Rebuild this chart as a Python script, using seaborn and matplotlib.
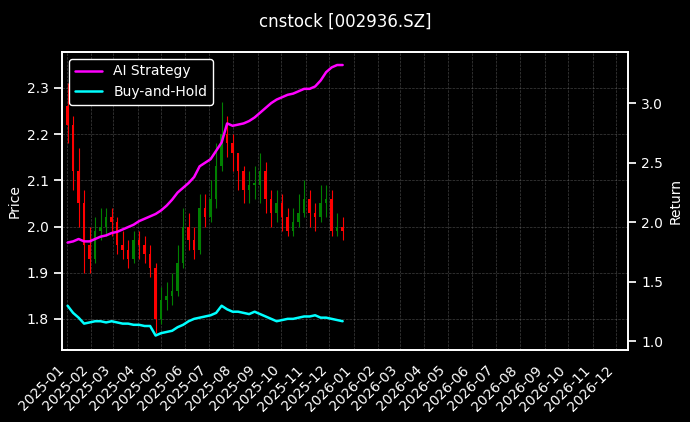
import matplotlib
matplotlib.use("Agg")
import matplotlib.pyplot as plt
import matplotlib.dates as mdates
import seaborn as sns
import pandas as pd
import numpy as np

close = [2.22,2.12,2.05,1.96,1.93,1.99,2.00,2.02,2.01,1.96,1.95,1.93,1.97,1.96,1.94,1.91,1.80,1.84,1.85,1.86,
         1.92,2.00,1.97,1.95,2.04,2.02,2.06,2.13,2.20,2.18,2.16,2.12,2.08,2.09,2.09,2.12,2.06,2.03,2.05,2.02,
         1.99,2.01,2.03,2.06,2.03,2.02,2.05,2.06,1.99,2.00,1.99]
open_ = [2.26,2.22,2.12,2.05,1.96,1.93,1.99,2.00,2.02,2.01,1.96,1.95,1.93,1.97,1.96,1.94,1.91,1.80,1.84,1.85,
         1.86,1.92,2.00,1.97,1.95,2.04,2.02,2.06,2.13,2.20,2.18,2.16,2.12,2.08,2.09,2.09,2.12,2.06,2.03,2.05,
         2.02,1.99,2.01,2.03,2.06,2.03,2.02,2.05,2.06,1.99,2.00]
high = [2.31,2.24,2.17,2.08,2.00,2.02,2.04,2.04,2.04,2.02,1.99,1.97,1.99,1.99,1.98,1.96,1.92,1.87,1.88,1.90,
        1.96,2.04,2.03,2.00,2.07,2.07,2.10,2.18,2.27,2.24,2.20,2.16,2.13,2.12,2.13,2.16,2.14,2.08,2.08,2.07,
        2.04,2.04,2.07,2.10,2.08,2.05,2.09,2.09,2.08,2.03,2.02]
low = [2.18,2.08,2.00,1.90,1.90,1.92,1.97,1.98,1.98,1.94,1.93,1.91,1.92,1.93,1.92,1.89,1.77,1.79,1.82,1.83,
       1.85,1.91,1.95,1.93,1.94,2.00,2.01,2.04,2.12,2.15,2.12,2.08,2.05,2.05,2.06,2.05,2.03,2.00,2.01,1.99,
       1.98,1.98,2.00,2.02,2.00,1.99,2.01,2.02,1.98,1.98,1.97]
ai_ret = [1.83,1.84,1.86,1.84,1.84,1.86,1.88,1.89,1.91,1.92,1.94,1.96,1.98,2.01,2.03,2.05,2.07,2.10,2.14,2.19,
          2.25,2.29,2.33,2.38,2.47,2.50,2.53,2.60,2.67,2.83,2.81,2.82,2.83,2.85,2.88,2.92,2.96,3.00,3.03,3.05,
          3.07,3.08,3.10,3.12,3.12,3.14,3.19,3.26,3.30,3.32,3.32]
bh_ret = [1.30,1.24,1.20,1.15,1.16,1.17,1.17,1.16,1.17,1.16,1.15,1.15,1.14,1.14,1.13,1.13,1.05,1.07,1.08,1.09,
          1.12,1.14,1.17,1.19,1.20,1.21,1.22,1.24,1.30,1.27,1.25,1.25,1.24,1.23,1.25,1.23,1.21,1.19,1.17,1.18,
          1.19,1.19,1.20,1.21,1.21,1.22,1.20,1.20,1.19,1.18,1.17]
dates = pd.date_range("2025-01-02", periods=len(close), freq="7D")

df = pd.DataFrame({"date": dates, "open": open_, "high": high, "low": low, "close": close,
                   "ai": ai_ret, "bh": bh_ret})

sns.set_theme(style="dark")
plt.style.use("dark_background")
plt.rcParams["font.family"] = ["DejaVu Sans"]

fig = plt.figure(figsize=(6.9, 4.22), dpi=100)
ax = fig.add_axes([0.09, 0.171, 0.82, 0.706])
ax.set_facecolor("black")
fig.patch.set_facecolor("black")

up = df["close"] >= df["open"]
cols = np.where(up, "green", "red")
ax.vlines(df["date"], df["low"], df["high"], colors=cols, linewidth=0.8)
ax.bar(df["date"], (df["close"] - df["open"]).abs().clip(lower=0.004),
       bottom=np.minimum(df["open"], df["close"]), width=3, color=cols, edgecolor=cols, linewidth=0)
ax.set_ylim(1.733, 2.378)
ax.set_ylabel("Price", color="white", fontsize=10)
ax.grid(True, color="gray", linestyle="--", linewidth=0.5, alpha=0.5)

ax2 = ax.twinx()
sns.lineplot(data=df, x="date", y="ai", ax=ax2, color="magenta", linewidth=1.8, label="AI Strategy")
sns.lineplot(data=df, x="date", y="bh", ax=ax2, color="cyan", linewidth=1.8, label="Buy-and-Hold")
ax2.set_ylim(0.93, 3.43)
ax2.set_ylabel("Return", color="white", fontsize=10)
ax2.set_xlabel("")
ax2.grid(False)
leg = ax2.legend(loc="upper left", facecolor="black", edgecolor="white", framealpha=1, fontsize=10)

ax.set_xlim(pd.Timestamp("2024-12-26"), pd.Timestamp("2026-12-16"))
ax.xaxis.set_major_locator(mdates.MonthLocator())
ax.xaxis.set_major_formatter(mdates.DateFormatter("%Y-%m"))
plt.setp(ax.get_xticklabels(), rotation=45, ha="right")
for a in (ax, ax2):
    a.tick_params(colors="white", labelsize=10)
    for s in a.spines.values():
        s.set_color("white")
fig.suptitle("cnstock [002936.SZ]", color="white", fontsize=12, y=0.97)
fig.savefig("out.png", dpi=100, facecolor="black")
